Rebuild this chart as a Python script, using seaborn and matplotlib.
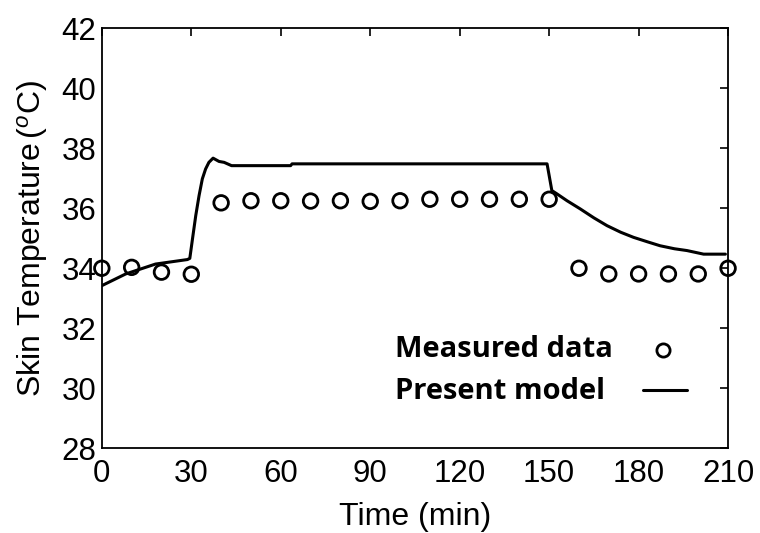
import numpy as np
import pandas as pd
import matplotlib
matplotlib.use("Agg")
import matplotlib.pyplot as plt
import seaborn as sns

# Measured skin temperature every 10 minutes
measured_time = [0, 10, 20, 30, 40, 50, 60, 70, 80, 90, 100, 110,
                 120, 130, 140, 150, 160, 170, 180, 190, 200, 210]
measured_temp = [34.0, 34.03, 33.87, 33.8, 36.18, 36.25, 36.25, 36.24, 36.25, 36.23, 36.25, 36.3,
                 36.3, 36.3, 36.3, 36.3, 34.0, 33.81, 33.81, 33.81, 33.81, 34.0]

# Present model prediction
model_time = [0, 8, 18, 28.7, 29.5, 30.4, 31.5, 32.6, 33.7, 34.8, 35.9, 37.3, 39.3, 41,
              43.5, 63.3, 63.8, 149.3, 150.9, 152.6, 156, 160.4, 165, 169.4, 174,
              178.3, 183, 187.2, 192, 196.2, 201.8, 209.1]
model_temp = [33.42, 33.81, 34.14, 34.29, 34.33, 34.98, 35.76, 36.42, 36.98, 37.31, 37.53, 37.67,
              37.56, 37.53, 37.42, 37.42, 37.48, 37.48, 36.59, 36.48, 36.25, 35.98, 35.68,
              35.42, 35.2, 35.03, 34.88, 34.75, 34.65, 34.59, 34.47, 34.47]

x_ticks = [0, 30, 60, 90, 120, 150, 180, 210]
y_ticks = [28, 30, 32, 34, 36, 38, 40, 42]
legend_labels = ["Measured data", "Present model"]

sns.set_style("white")
plt.rcParams["font.family"] = ["Liberation Sans", "DejaVu Sans"]
plt.rcParams["text.color"] = "black"
plt.rcParams["axes.labelcolor"] = "black"
plt.rcParams["mathtext.fontset"] = "custom"
plt.rcParams["mathtext.rm"] = "Liberation Sans"
plt.rcParams["mathtext.it"] = "Liberation Sans:italic"

fig = plt.figure(figsize=(7.6, 5.33), dpi=100)
ax = fig.add_axes([0.134, 0.159, 0.824, 0.788])

meas = pd.DataFrame({"t": measured_time, "T": measured_temp})
model = pd.DataFrame({"t": model_time, "T": model_temp})

sns.scatterplot(data=meas, x="t", y="T", ax=ax, marker="o", s=110,
                facecolor="none", edgecolor="black", linewidth=2.0,
                zorder=3, clip_on=False, legend=False)
sns.lineplot(data=model, x="t", y="T", ax=ax, color="black", linewidth=2.2,
             sort=False, estimator=None, legend=False)

ax.set_xlim(0, 210)
ax.set_ylim(28, 42)
ax.set_xticks(x_ticks)
ax.set_yticks(y_ticks)
ax.tick_params(direction="in", length=6, width=1.2, top=True, right=True,
               labelsize=22.5, colors="black")
ax.tick_params(axis="x", pad=8)
ax.tick_params(axis="y", pad=4)
for side in ax.spines.values():
    side.set_color("black")
    side.set_linewidth(1.3)

ax.set_xlabel("Time (min)", fontsize=23, labelpad=9, color="black")
ax.set_ylabel(r"Skin Temperature$\,(^{o}$C)", fontsize=23, labelpad=8, color="black")

# Legend: labels on the left, keys on the right
key_font = {"family": "Open Sans", "weight": "bold", "size": 21}
ax.text(0.468, 0.217, legend_labels[0], transform=ax.transAxes,
        ha="left", va="baseline", fontdict=key_font, color="black")
ax.text(0.468, 0.118, legend_labels[1], transform=ax.transAxes,
        ha="left", va="baseline", fontdict=key_font, color="black")
ax.plot([0.896], [0.233], transform=ax.transAxes, marker="o", linestyle="none",
        markersize=9.5, markerfacecolor="none", markeredgecolor="black",
        markeredgewidth=2.0)
ax.plot([0.864, 0.935], [0.138, 0.138], transform=ax.transAxes,
        color="black", linewidth=2.2)

fig.savefig("out.png", dpi=100)
